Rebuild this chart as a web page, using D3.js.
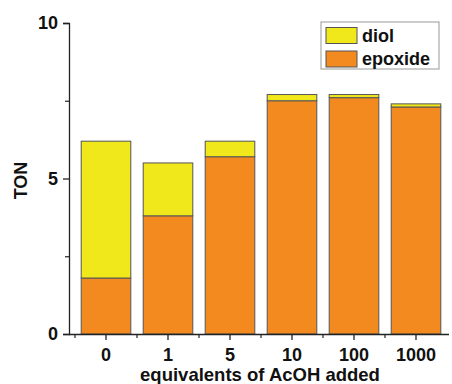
<!DOCTYPE html>
<meta charset="utf-8">
<html lang="en"></html>
<script src="https://d3js.org/d3.v7.min.js"></script>
<style>
    body { margin: 0; background: #fff; }
    text { font-family: "Liberation Sans", Arial, sans-serif; font-weight: bold; }
</style>
<div id="chart"></div>
<script>
    // data
    const categories = ["0", "1", "5", "10", "100", "1000"];
    const epoxide = [1.8, 3.8, 5.7, 7.5, 7.6, 7.3];
    const diol = [4.4, 1.7, 0.5, 0.2, 0.1, 0.1];
    const yTicks = [0, 5, 10];
    const yMinor = [2.5, 7.5];

    const width = 452, height = 384;
    const margin = {top: 23, right: 3, bottom: 50, left: 69};
    const w = width - margin.left - margin.right,
        h = height - margin.top - margin.bottom;

    const colours = {diol: "#f0e81a", epoxide: "#f28a20"};

    const svg = d3.select("#chart")
        .append("svg")
            .attr("width", width)
            .attr("height", height)
        .append("g")
            .attr("transform", "translate(" + margin.left + "," + margin.top + ")");

    const x = d3.scaleBand()
        .domain(categories)
        .range([6, 6 + 62 * categories.length])
        .paddingInner(0.2)
        .paddingOuter(0.1);

    const y = d3.scaleLinear()
        .domain([0, 10])
        .range([h, 0]);

    // stacked rows
    const rows = categories.map(function(c, i) {
        return {cat: c, epoxide: epoxide[i], diol: diol[i]};
    });
    const stack = d3.stack().keys(["epoxide", "diol"])(rows);

    svg.selectAll("g.layer")
        .data(stack)
        .enter()
        .append("g")
            .attr("class", "layer")
            .attr("fill", function(d) { return colours[d.key]; })
        .selectAll("rect")
        .data(function(d) { return d; })
        .enter()
        .append("rect")
            .attr("x", function(d) { return x(d.data.cat); })
            .attr("y", function(d) { return y(d[1]); })
            .attr("width", x.bandwidth())
            .attr("height", function(d) { return y(d[0]) - y(d[1]); })
            .attr("stroke", "#555")
            .attr("stroke-width", 1);

    // Y axis
    const yAxis = svg.append("g")
        .call(d3.axisLeft(y).tickValues(yTicks).tickSize(6).tickPadding(5).tickFormat(d3.format("d")));
    yAxis.select(".domain").attr("stroke", "#222").attr("stroke-width", 1.3);
    yAxis.selectAll(".tick line").attr("stroke", "#222").attr("stroke-width", 1.3);
    yAxis.selectAll("text").attr("font-size", "18px").attr("fill", "#111");
    svg.append("g")
        .call(d3.axisLeft(y).tickValues(yMinor).tickSize(4).tickFormat(""))
        .call(function(g) { g.select(".domain").remove(); })
        .selectAll(".tick line").attr("stroke", "#222").attr("stroke-width", 1.2);

    // X axis
    const xAxis = svg.append("g")
        .attr("transform", "translate(0," + h + ")")
        .call(d3.axisBottom(x).tickSize(6).tickPadding(6).tickSizeOuter(0));
    xAxis.select(".domain").attr("d", "M0,0.5H" + (w)).attr("stroke", "#222").attr("stroke-width", 1.3);
    xAxis.selectAll(".tick line").attr("stroke", "#222").attr("stroke-width", 1.3);
    xAxis.selectAll("text")
        .attr("font-size", "18px")
        .attr("fill", "#111")
        .attr("y", 27)
        .attr("dy", null);

    // minor ticks between categories
    const step = x.step();
    svg.append("g")
        .attr("transform", "translate(0," + h + ")")
        .selectAll("line")
        .data(categories)
        .enter()
        .append("line")
            .attr("x1", function(d) { return x(d) + x.bandwidth() / 2 - step / 2; })
            .attr("x2", function(d) { return x(d) + x.bandwidth() / 2 - step / 2; })
            .attr("y1", 0)
            .attr("y2", 4)
            .attr("stroke", "#222")
            .attr("stroke-width", 1.2);

    // axis titles
    svg.append("text")
        .text("TON")
        .attr("transform", "translate(" + (-42) + "," + (y(5) + 2) + ")rotate(-90)")
        .attr("text-anchor", "middle")
        .attr("font-size", "18px")
        .attr("fill", "#111");

    svg.append("text")
        .text("equivalents of AcOH added")
        .attr("x", 191)
        .attr("y", h + 47)
        .attr("text-anchor", "middle")
        .attr("font-size", "18.5px")
        .attr("fill", "#111");

    // legend
    const legend = svg.append("g")
        .attr("transform", "translate(" + (321 - margin.left) + "," + (22 - margin.top) + ")");
    legend.append("rect")
        .attr("width", 118)
        .attr("height", 47)
        .attr("fill", "#fff")
        .attr("stroke", "#999")
        .attr("stroke-width", 1);
    const keys = ["diol", "epoxide"];
    keys.forEach(function(k, i) {
        legend.append("rect")
            .attr("x", 5)
            .attr("y", 5.5 + i * 23.5)
            .attr("width", 31)
            .attr("height", 16)
            .attr("fill", colours[k])
            .attr("stroke", "#555");
        legend.append("text")
            .text(k)
            .attr("x", 41)
            .attr("y", 19.5 + i * 23.5)
            .attr("font-size", "18px")
            .attr("fill", "#111");
    });
</script>
